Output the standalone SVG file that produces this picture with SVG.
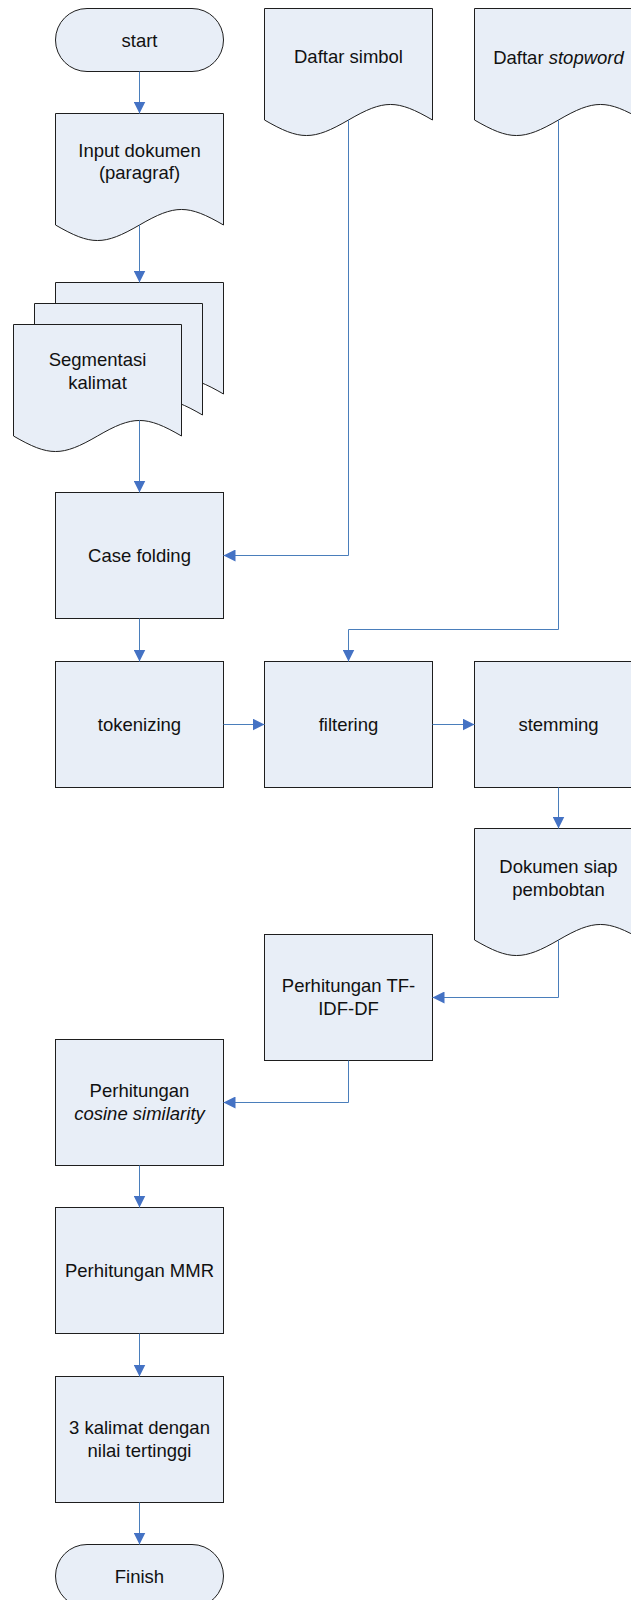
<svg xmlns="http://www.w3.org/2000/svg" xmlns:xlink="http://www.w3.org/1999/xlink" width="631" height="1600" viewBox="0 0 631 1600">
<style>
.box{fill:#E8EEF7;stroke:#1E1E1E;stroke-width:1}
.lbl{font-family:"Liberation Sans",Arial,sans-serif;font-size:18.5px;fill:#111;text-anchor:middle}
.it{font-style:italic}
.con{fill:none;stroke:#4A7EBB;stroke-width:1}
</style>
<defs>
<path id="doc" d="M0,0 H168 V111.5 C132.4,90.8 119.6,90.8 84,111.5 C48.4,132.2 35.6,132.2 0,111.5 Z"/>
<marker id="arr" markerUnits="userSpaceOnUse" markerWidth="12" markerHeight="12" refX="12" refY="6" orient="auto">
<path d="M0,0 L12,6 L0,12 Z" fill="#4472C4"/>
</marker>
</defs>

<g id="start">
<rect class="box" x="55.5" y="8.5" width="168" height="63" rx="31.5" ry="31.5"/>
<text class="lbl" x="139.5" y="46.5">start</text>
</g>

<g id="daftar-simbol">
<use class="box" href="#doc" xlink:href="#doc" transform="translate(264.5,8.5)"/>
<text class="lbl" x="348.5" y="62.7">Daftar simbol</text>
</g>

<g id="daftar-stopword">
<use class="box" href="#doc" xlink:href="#doc" transform="translate(474.5,8.5)"/>
<text class="lbl" x="558.5" y="63.5">Daftar <tspan class="it">stopword</tspan></text>
</g>

<g id="input-dokumen">
<use class="box" href="#doc" xlink:href="#doc" transform="translate(55.5,113.5)"/>
<text class="lbl" x="139.5" y="156.7">Input dokumen</text>
<text class="lbl" x="139.5" y="179.3">(paragraf)</text>
</g>

<g id="segmentasi">
<use class="box" href="#doc" xlink:href="#doc" transform="translate(55.5,282.5)"/>
<use class="box" href="#doc" xlink:href="#doc" transform="translate(34.5,303.5)"/>
<use class="box" href="#doc" xlink:href="#doc" transform="translate(13.5,324.5)"/>
<text class="lbl" x="97.5" y="366">Segmentasi</text>
<text class="lbl" x="97.5" y="389">kalimat</text>
</g>

<g id="case-folding">
<rect class="box" x="55.5" y="492.5" width="168" height="126"/>
<text class="lbl" x="139.5" y="561.8">Case folding</text>
</g>

<g id="tokenizing">
<rect class="box" x="55.5" y="661.5" width="168" height="126"/>
<text class="lbl" x="139.5" y="730.8">tokenizing</text>
</g>

<g id="filtering">
<rect class="box" x="264.5" y="661.5" width="168" height="126"/>
<text class="lbl" x="348.5" y="730.8">filtering</text>
</g>

<g id="stemming">
<rect class="box" x="474.5" y="661.5" width="168" height="126"/>
<text class="lbl" x="558.5" y="730.8">stemming</text>
</g>

<g id="dokumen-siap">
<use class="box" href="#doc" xlink:href="#doc" transform="translate(474.5,828.5)"/>
<text class="lbl" x="558.5" y="873.3">Dokumen siap</text>
<text class="lbl" x="558.5" y="895.6">pembobtan</text>
</g>

<g id="tf-idf-df">
<rect class="box" x="264.5" y="934.5" width="168" height="126"/>
<text class="lbl" x="348.5" y="992.3">Perhitungan TF-</text>
<text class="lbl" x="348.5" y="1014.6">IDF-DF</text>
</g>

<g id="cosine">
<rect class="box" x="55.5" y="1039.5" width="168" height="126"/>
<text class="lbl" x="139.5" y="1097">Perhitungan</text>
<text class="lbl it" x="139.5" y="1119.6">cosine similarity</text>
</g>

<g id="mmr">
<rect class="box" x="55.5" y="1207.5" width="168" height="126"/>
<text class="lbl" x="139.5" y="1276.8">Perhitungan MMR</text>
</g>

<g id="tiga-kalimat">
<rect class="box" x="55.5" y="1376.5" width="168" height="126"/>
<text class="lbl" x="139.5" y="1434.3">3 kalimat dengan</text>
<text class="lbl" x="139.5" y="1456.6">nilai tertinggi</text>
</g>

<g id="finish">
<rect class="box" x="55.5" y="1544.5" width="168" height="63" rx="31.5" ry="31.5"/>
<text class="lbl" x="139.5" y="1582.5">Finish</text>
</g>

<g id="connectors">
<path class="con" marker-end="url(#arr)" d="M139.5,71.5 V113.5"/>
<path class="con" marker-end="url(#arr)" d="M139.5,225 V282.5"/>
<path class="con" marker-end="url(#arr)" d="M139.5,420.5 V492.5"/>
<path class="con" marker-end="url(#arr)" d="M139.5,618.5 V661.5"/>
<path class="con" marker-end="url(#arr)" d="M223.5,724.5 H264.5"/>
<path class="con" marker-end="url(#arr)" d="M432.5,724.5 H474.5"/>
<path class="con" marker-end="url(#arr)" d="M348.5,120 V555.5 H223.5"/>
<path class="con" marker-end="url(#arr)" d="M558.5,120 V629.5 H348.5 V661.5"/>
<path class="con" marker-end="url(#arr)" d="M558.5,787.5 V828.5"/>
<path class="con" marker-end="url(#arr)" d="M558.5,940 V997.5 H432.5"/>
<path class="con" marker-end="url(#arr)" d="M348.5,1060.5 V1102.5 H223.5"/>
<path class="con" marker-end="url(#arr)" d="M139.5,1165.5 V1207.5"/>
<path class="con" marker-end="url(#arr)" d="M139.5,1333.5 V1376.5"/>
<path class="con" marker-end="url(#arr)" d="M139.5,1502.5 V1544.5"/>
</g>
</svg>
